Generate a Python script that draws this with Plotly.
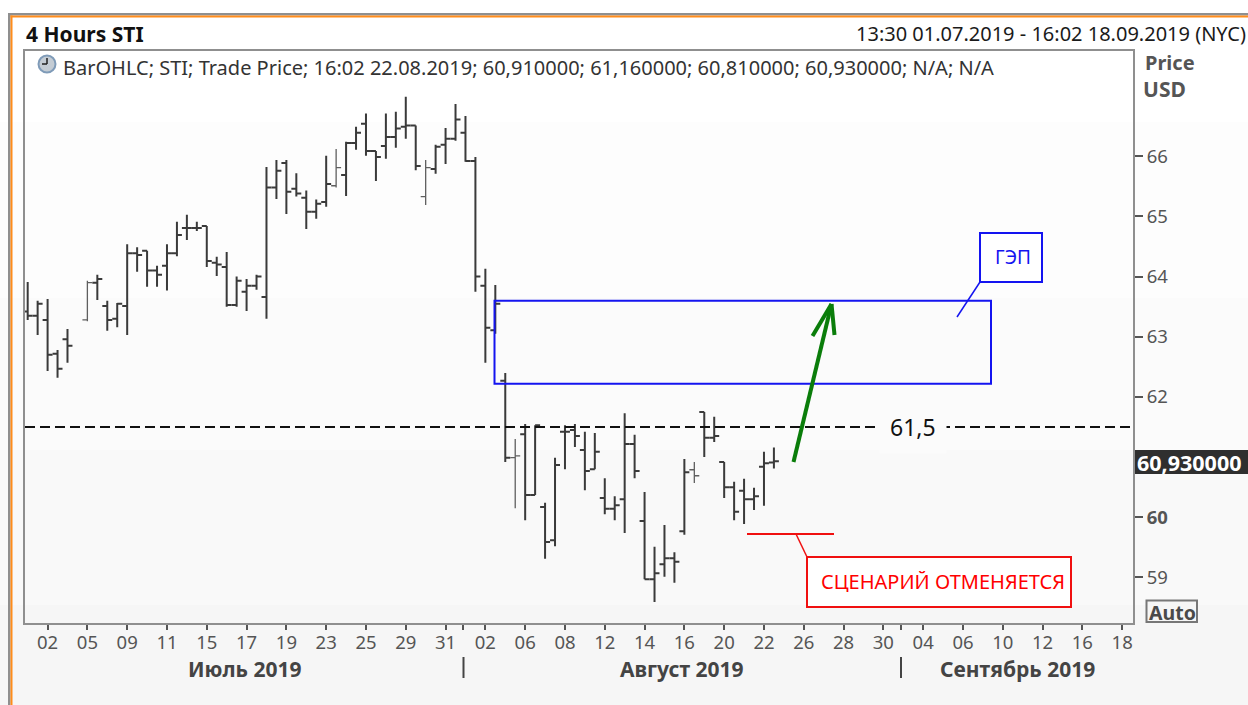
import plotly.graph_objects as go

# ---- data -----------------------------------------------------------------
BAR_SLOTS = list(range(0, 5)) + list(range(6, 76))
OPEN = [63.42,63.35,63.28,62.72,62.96,
        63.28,63.90,63.51,63.30,63.51,64.39,64.43,64.10,64.18,64.39,64.81,64.81,64.84,64.23,64.16,63.53,63.75,63.85,
        63.66,65.48,65.89,65.46,65.31,65.08,65.24,65.51,65.69,66.22,66.54,66.09,66.17,66.32,66.49,66.51,65.33,65.79,66.19,66.29,66.39,65.92,
        63.85,63.11,62.27,60.99,61.38,60.37,60.17,59.62,61.42,61.45,61.12,60.80,60.32,60.14,60.30,61.22,59.94,58.97,59.22,59.32,59.77,60.79,
        61.75,61.32,60.92,60.50,60.44,60.30,60.84,60.91]
HIGH = [63.91,63.60,63.63,62.78,63.13,
        63.93,64.03,63.60,63.56,64.54,64.49,64.43,64.18,64.54,64.91,65.03,64.91,64.84,64.33,64.41,64.00,63.96,64.03,
        65.82,65.94,65.94,65.72,65.43,65.28,66.01,66.12,66.24,66.49,66.71,66.09,66.71,66.74,66.99,66.51,65.94,66.19,66.47,66.87,66.67,65.99,
        64.13,63.86,62.40,61.30,61.55,61.53,60.24,60.99,61.53,61.55,61.42,61.40,60.65,60.35,61.73,61.37,60.42,59.51,59.87,59.42,60.97,60.92,
        61.75,61.67,60.92,60.59,60.64,60.49,61.09,61.16]
LOW = [63.28,63.03,62.43,62.32,62.57,
       63.26,63.61,63.10,63.16,63.03,64.08,63.83,63.83,63.77,64.34,64.61,64.76,64.16,64.01,63.50,63.50,63.43,63.78,
       63.30,65.29,65.04,65.33,64.79,64.96,65.16,65.48,65.34,66.11,66.01,65.59,65.96,66.14,66.29,65.77,65.19,65.71,65.87,66.26,65.91,63.75,
       62.57,63.05,60.92,60.15,59.95,60.37,59.31,59.52,60.80,61.17,60.45,60.80,60.05,59.95,59.74,60.65,58.97,58.59,59.01,58.91,59.71,60.57,
       61.00,61.25,60.32,59.95,59.89,60.12,60.19,60.81]
CLOSE = [63.35,63.55,62.70,62.47,62.85,
         63.90,63.96,63.28,63.55,64.39,64.36,64.10,64.03,64.39,64.69,64.81,64.81,64.26,64.20,63.53,63.93,63.85,64.00,
         65.48,65.76,65.41,65.38,65.08,65.21,65.54,65.81,66.22,66.39,66.09,65.99,66.32,66.46,66.51,65.84,65.81,66.16,66.29,66.61,65.92,64.00,
         63.15,63.55,60.99,61.02,60.37,61.53,59.59,60.87,61.42,61.35,60.77,61.09,60.14,60.20,61.22,60.77,58.97,59.07,59.32,59.26,60.75,60.69,
         61.32,61.35,60.50,60.09,60.30,60.35,60.90,60.93]
THIN_SLOTS = [6, 31, 40, 49, 67]   # bars the reference draws as lighter hairlines

X_LABELS = ["02","05","09","11","15","17","19","23","25","29","31",
            "02","06","08","12","14","16","20","22","26","28","30",
            "04","06","10","12","16","18"]
X_LABEL_SLOTS = list(range(2, 111, 4))
MONTH_BREAK_SLOTS = [43.8, 87.8]
PRICE_TICKS = [59, 60, 62, 63, 64, 65, 66]
PRICE_LABELS = ["59", "<b>60</b>", "62", "63", "64", "65", "66"]
GAP_TOP, GAP_BOTTOM = 63.60, 62.22
LEVEL = 61.5

# ---- layout ----------------------------------------------------------------
W, H = 1248, 705
L, R, T, B = 25, 1133, 51, 623
FONT = "Noto Sans"
def xp(px): return (px - L) / (R - L)
def yp(py): return (B - py) / (B - T)

shapes, annos = [], []
def rect(x0, y0, x1, y1, line=None, fill=None, lw=2, layer="above"):
    shapes.append(dict(type="rect", xref="paper", yref="paper", x0=xp(x0), x1=xp(x1), y0=yp(y0), y1=yp(y1),
                       line=dict(color=line or "rgba(0,0,0,0)", width=lw if line else 0),
                       fillcolor=fill or "rgba(0,0,0,0)", layer=layer))
def seg(x0, y0, x1, y1, color, lw=2, layer="above"):
    shapes.append(dict(type="line", xref="paper", yref="paper", x0=xp(x0), x1=xp(x1), y0=yp(y0), y1=yp(y1),
                       line=dict(color=color, width=lw), layer=layer))
def text(px, py, s, size=17, color="#3c3c3c", anchor="left", bg=None, pad=0):
    annos.append(dict(xref="paper", yref="paper", x=xp(px), y=yp(py), text=s, showarrow=False,
                      xanchor=anchor, yanchor="middle", bgcolor=bg,
                      font=dict(family=FONT, size=size, color=color), borderpad=pad))

# background bands
for y0, y1, c in [(0,122,"#ffffff"),(122,298,"#fdfdfd"),(298,450,"#fbfbfb"),(450,605,"#f9f9f9"),(605,705,"#f6f6f6")]:
    rect(0, y0, W, y1, fill=c, layer="below")
# frame
rect(8, 13, W, 15.5, fill="#8f8f8f", layer="below")
rect(8, 13, 10.5, H, fill="#8f8f8f", layer="below")
rect(10.5, 15.5, W, 17.5, fill="#ff8c1a", layer="below")
rect(10.5, 15.5, 12.5, H, fill="#ff8c1a", layer="below")

# header
text(25, 34, "<b>4 Hours STI</b>", 21, "#111111")
text(1247, 33, "13:30 01.07.2019 - 16:02 18.09.2019 (NYC)", 20, "#1a1a1a", "right")
text(62, 67, "BarOHLC; STI; Trade Price; 16:02 22.08.2019; 60,910000; 61,160000; 60,810000; 60,930000; N/A; N/A", 20, "#333333")
text(1144, 63, "<b>Price</b>", 20, "#555555")
text(1142, 89, "<b>USD</b>", 21, "#555555")
# clock icon
shapes.append(dict(type="circle", xref="paper", yref="paper", x0=xp(38.5), x1=xp(55.5), y0=yp(55.5), y1=yp(72.5),
                   line=dict(color="#7f9bb8", width=2), fillcolor="#c4ccd4"))
seg(47, 58, 47, 64, "#222222", 1.5)
seg(42, 64, 47, 64, "#222222", 1.5)

# reference level with label
shapes.append(dict(type="line", xref="paper", yref="y", x0=0, x1=1, y0=LEVEL, y1=LEVEL,
                   line=dict(color="#111111", width=2, dash="10px,5px")))
text(913, 427, "61,5", 23, "#111111", "center", bg="#fbfbfb", pad=10)

# gap box
shapes.append(dict(type="rect", xref="paper", yref="y", x0=xp(494.5), x1=xp(991), y0=GAP_BOTTOM, y1=GAP_TOP,
                   line=dict(color="#1414f0", width=2), fillcolor="rgba(0,0,0,0)"))
rect(980, 233, 1042, 282, line="#1414f0", fill="#ffffff")
seg(980, 282, 957, 317, "#1414f0", 1.5)
text(1013, 257, "ГЭП", 19, "#1414f0", "center")

# green arrow
seg(793.5, 462, 831.5, 304, "#0a7d0a", 4)
seg(831.5, 304, 812.5, 336, "#0a7d0a", 4)
seg(831.5, 304, 834.5, 335, "#0a7d0a", 4)

# red annotation
seg(747, 534, 834, 534, "#f01010", 2)
seg(796, 534, 807, 557, "#f01010", 1.5)
rect(807, 557, 1071, 607, line="#f01010", fill="#ffffff")
text(942.5, 581, "СЦЕНАРИЙ ОТМЕНЯЕТСЯ", 20, "#ff0000", "center")

# value tag + auto button
rect(1135, 450, W, 474, fill="#2f2f2f")
text(1136, 462, "<b>60,930000</b>", 21.5, "#ffffff")
rect(1146.5, 600.5, 1197, 622, line="#777777", fill="#f6f6f6")
text(1172, 612, "<b>Auto</b>", 19.5, "#4a4a4a", "center")

# month captions
text(244, 669, "<b>Июль 2019</b>", 21, "#444444", "center")
text(682, 669, "<b>Август 2019</b>", 21, "#444444", "center")
text(1017, 669, "<b>Сентябрь 2019</b>", 21, "#444444", "center")
for b in (463.5, 901):
    seg(b, 657, b, 678, "#444444", 2)

def bars(slots, color, width):
    idx = [BAR_SLOTS.index(s) for s in slots]
    return go.Ohlc(x=slots,
                   open=[OPEN[i] for i in idx], high=[HIGH[i] for i in idx],
                   low=[LOW[i] for i in idx], close=[CLOSE[i] for i in idx],
                   tickwidth=0.5,
                   increasing=dict(line=dict(color=color, width=width)),
                   decreasing=dict(line=dict(color=color, width=width)),
                   hoverinfo="skip", showlegend=False)

fig = go.Figure([bars([s for s in BAR_SLOTS if s not in THIN_SLOTS], "#3a3a3a", 2),
                 bars(THIN_SLOTS, "#5f5f5f", 1.3)])
fig.update_layout(
    width=W, height=H, margin=dict(l=L, r=W-R, t=T, b=H-B),
    paper_bgcolor="#ffffff", plot_bgcolor="rgba(0,0,0,0)", showlegend=False,
    font=dict(family=FONT, color="#555555"),
    shapes=shapes, annotations=annos,
    xaxis=dict(range=[-0.27, 111.09], rangeslider=dict(visible=False), showgrid=False, zeroline=False,
               tickmode="array", tickvals=X_LABEL_SLOTS + MONTH_BREAK_SLOTS, ticktext=X_LABELS + ["", ""],
               ticks="outside", ticklen=5, tickwidth=2, tickcolor="#555555", tickangle=0,
               tickfont=dict(family=FONT, size=18.5, color="#555555"), ticklabelstandoff=-3,
               showline=True, mirror=True, linecolor="#8f8f8f", linewidth=2),
    yaxis=dict(side="right", range=[58.243, 67.75], showgrid=False, zeroline=False,
               tickmode="array", tickvals=PRICE_TICKS, ticktext=PRICE_LABELS,
               ticks="outside", ticklen=8, tickwidth=2, tickcolor="#555555",
               tickfont=dict(family=FONT, size=18.5, color="#555555"),
               showline=True, mirror=True, linecolor="#8f8f8f", linewidth=2),
)
fig.write_html("out.html", config=dict(displayModeBar=False),
               post_script="document.body.style.margin='0';document.body.style.overflow='hidden';")
